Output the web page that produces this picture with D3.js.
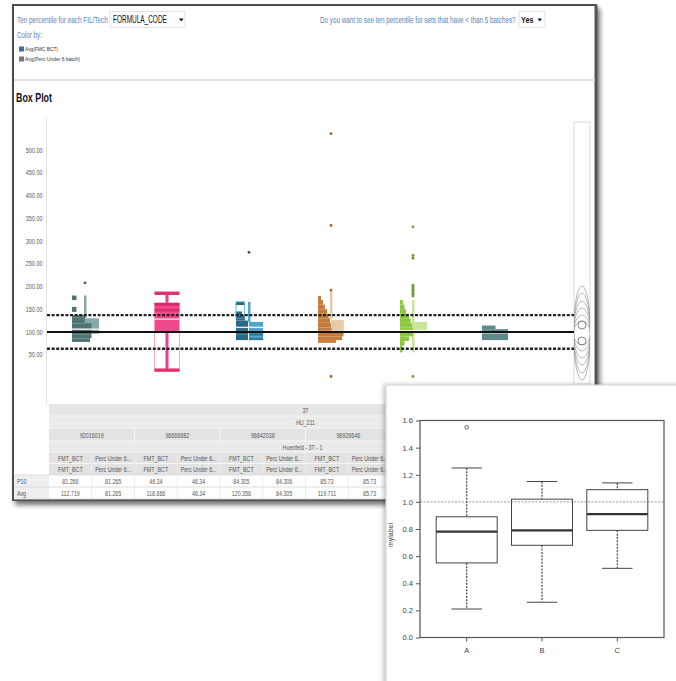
<!DOCTYPE html>
<html><head><meta charset="utf-8">
<script src="https://cdn.jsdelivr.net/npm/d3@7"></script>
<style>
html,body{margin:0;padding:0;background:#fff;}
svg{display:block;}
text{font-family:"Liberation Sans",Arial,sans-serif;}
</style></head><body><svg id="c" width="676" height="681"></svg>
<script>
const W = 676, H = 681;

// ---- main box plot data ----
const mainTicks = [50, 100, 150, 200, 250, 300, 350, 400, 450, 500];
const groups = ["92016019", "96666682", "96842038", "96926646", "set5", "set6"];
const darkColors = ["#4f7573", "#ee3f80", "#2c6987", "#c47c3c", "#8ec63e", "#5e8a8d"];
const lightColors = ["#88a9a7", "#f7a8c6", "#4ea4cb", "#e7cba9", "#c9e49b", "#93b4b6"];
// FMT_BCT stacks per group: [low, high, count]
const darkBins = [
  [[170,180,1.5],[144,155,1.5],[131,137,4.3],[119,131,4.3],[107,119,6.5],[95,107,6.5],[86,95,6.5],[78,86,6]],
  [],
  [[159,166,2.8],[137,145,2],[125,137,3],[110,125,4],[95,110,4],[82,95,4]],
  [[170,179,1],[160,170,1.7],[150,160,2.3],[140,150,3],[130,140,3.5],[120,130,4],[110,120,4.3],[100,110,4.5],[90,100,8.5],[82,90,8],[76,82,6]],
  [[160,170,1],[150,160,1.5],[140,150,2],[130,140,3],[120,130,3.5],[110,120,4],[100,110,4.3],[90,100,4.3],[80,90,3],[70,80,1.5],[55,70,0.8]],
  [[106,114,4.5],[82,106,8.7]]
];
// Perc Under 6 batch stacks per group: [low, high, count]
const lightBins = [
  [[96,130,4.7]],
  [],
  [[82,122,4.7]],
  [[100,126,4.3]],
  [[97,122,4.7]],
  []
];
const stripeBins = [[], [], [[92,97,4.7],[82,87,4.7]], [], [], []];
const hollowBins = [[], [], [[130,166,2.8]], [], [], []];
const whiskers = [[130,180], null, [122,166], [128,190], [55,170], null];
const medians = [106, 128, 110, 101, 103, 98];
const outliers = [
  [208], [], [275], [536, 334, 192, 2],
  [331, 268, 262, 203, 200, 197, 194, 191, 188, 185, 182, 179, 2], []
];
// summary box for 96666682
const boxGroup = "96666682";
const boxLow = 16, boxQ1 = 101, boxMid = 148, boxMedian = 128, boxQ3 = 164, boxHigh = 185;
const refSolid = [100];
const refDashed = [137, 63];

// ---- table data ----
const tableCodes = ["92016019", "96666682", "96842038", "96926646"];
const tableMeasures = ["FMT_BCT", "Perc Under 6..."];
const p10Values = ["81.266", "81.265", "46.34", "46.34", "84.305", "84.306", "85.73", "85.73"];
const avgValues = ["112.719", "81.265", "118.666", "46.34", "120.356", "84.305", "119.711", "85.73"];

// ---- inset box plot data ----
const insetGroups = ["A", "B", "C"];
const insetLow = [0.21, 0.26, 0.51];
const insetQ1 = [0.55, 0.68, 0.79];
const insetMedian = [0.78, 0.79, 0.91];
const insetQ3 = [0.89, 1.02, 1.09];
const insetHigh = [1.25, 1.15, 1.14];
const insetOutliers = [["A", 1.55]];
const insetTicks = [0, 0.2, 0.4, 0.6, 0.8, 1.0, 1.2, 1.4, 1.6];

const svg = d3.select("#c");
svg.append("rect").attr("width", W).attr("height", H).attr("fill", "#fff");
const defs = svg.append("defs");
const sh = defs.append("filter").attr("id", "shadow")
  .attr("x", "-5%").attr("y", "-5%").attr("width", "115%").attr("height", "115%");
sh.append("feDropShadow").attr("dx", 3).attr("dy", 4).attr("stdDeviation", 2.5)
  .attr("flood-color", "#000").attr("flood-opacity", 0.55);
const sh2 = defs.append("filter").attr("id", "shadow2")
  .attr("x", "-10%").attr("y", "-10%").attr("width", "120%").attr("height", "120%");
sh2.append("feDropShadow").attr("dx", -2).attr("dy", 0).attr("stdDeviation", 2)
  .attr("flood-color", "#000").attr("flood-opacity", 0.25);

// condensed text: draw at natural size, then squeeze horizontally
function narrowText(parent, x, y, s, size, fill, opts) {
  opts = opts || {};
  const t = parent.append("text").attr("x", 0).attr("y", 0).text(s)
    .attr("font-size", size).attr("fill", fill)
    .attr("text-anchor", opts.anchor || "start");
  if (opts.bold) t.attr("font-weight", "bold");
  let k = opts.scale || 0.76;
  if (opts.width) k = opts.width / t.node().getComputedTextLength();
  t.attr("transform", `translate(${x},${y}) scale(${k},1)`);
  return t;
}

// dashboard frame
svg.append("rect").attr("x", 13).attr("y", 5).attr("width", 583).attr("height", 495)
  .attr("fill", "#fff").attr("stroke", "#4d4d4d").attr("stroke-width", 2).attr("filter", "url(#shadow)");
svg.append("line").attr("x1", 596).attr("x2", 596).attr("y1", 5).attr("y2", 500)
  .attr("stroke", "#555").attr("stroke-width", 3);

// header controls
const blue = "#5682b9";
narrowText(svg, 17, 23, "Ten percentile for each FIL/Tech", 9.5, blue, { width: 91 });
svg.append("rect").attr("x", 110).attr("y", 11.5).attr("width", 75).attr("height", 16)
  .attr("fill", "#fff").attr("stroke", "#e2e2e2");
narrowText(svg, 113, 23, "FORMULA_CODE", 10, "#111", { width: 54 });
svg.append("path").attr("d", "M179,18.5 h4.5 l-2.25,3 z").attr("fill", "#111");
narrowText(svg, 17, 38, "Color by:", 9.5, blue, { width: 25 });
svg.append("rect").attr("x", 19).attr("y", 46.5).attr("width", 5).attr("height", 5).attr("fill", "#3a6ea5");
narrowText(svg, 25, 51, "Avg(FMC BCT)", 5.5, "#333", { width: 33 });
svg.append("rect").attr("x", 19).attr("y", 56.5).attr("width", 5).attr("height", 5).attr("fill", "#777");
narrowText(svg, 25, 61, "Avg(Perc Under 6 batch)", 5.5, "#333", { width: 55 });
narrowText(svg, 320, 23, "Do you want to see ten percentile for sets that have < than 5 batches?", 9.5, blue, { width: 196 });
svg.append("rect").attr("x", 519).attr("y", 11.5).attr("width", 26).attr("height", 16)
  .attr("fill", "#fff").attr("stroke", "#e2e2e2");
narrowText(svg, 521, 23, "Yes", 9.5, "#111", { width: 12.5, bold: true });
svg.append("path").attr("d", "M537.5,18.5 h4.5 l-2.25,3 z").attr("fill", "#111");
svg.append("line").attr("x1", 14).attr("x2", 595).attr("y1", 80).attr("y2", 80)
  .attr("stroke", "#dedede").attr("stroke-width", 2);
narrowText(svg, 16, 102, "Box Plot", 12, "#111", { width: 36, bold: true });

// main chart scales
const y = d3.scaleLinear().domain([0, 500]).range([377.4, 150]);
const x = d3.scaleBand().domain(groups).range([44, 536]);
const cx = g => x(g) + x.bandwidth() / 2;
const unit = d3.scaleLinear().domain([0, 1]).range([0, 3]);

svg.append("line").attr("x1", 46.5).attr("x2", 46.5).attr("y1", 118).attr("y2", 404)
  .attr("stroke", "#e0e0e0");

const yAxis = svg.append("g").attr("transform", "translate(44,0)")
  .call(d3.axisLeft(y).tickValues(mainTicks).tickFormat(d3.format(".2f")).tickSize(0).tickPadding(2));
yAxis.select(".domain").remove();
yAxis.selectAll("text").attr("font-size", 7).attr("fill", "#555")
  .attr("transform", "scale(0.78,1)");

// right-hand zoom slider panel
const panel = svg.append("g");
panel.append("rect").attr("x", 574).attr("y", 122).attr("width", 16).attr("height", 262)
  .attr("fill", "#fff").attr("stroke", "#dadada");
defs.append("clipPath").attr("id", "pclip").append("rect")
  .attr("x", 574).attr("y", 122).attr("width", 16).attr("height", 262);
const arcs = panel.append("g").attr("clip-path", "url(#pclip)");
[12, 18, 25, 32, 40, 47].forEach(r => {
  arcs.append("ellipse").attr("cx", 582).attr("cy", 333).attr("rx", 8.5).attr("ry", r)
    .attr("fill", "none").attr("stroke", "#9a9a9a").attr("stroke-width", 0.7);
});
[325, 341].forEach(c => {
  arcs.append("circle").attr("cx", 582).attr("cy", c).attr("r", 4)
    .attr("fill", "none").attr("stroke", "#777").attr("stroke-width", 0.9);
});

// group marks
const marks = svg.append("g");
groups.forEach((g, i) => {
  const c = cx(g), left = c - 13;
  const dark = darkColors[i], light = lightColors[i];
  if (g === boxGroup) {
    const bw = 25;
    marks.append("rect").attr("x", c - bw / 2).attr("y", y(boxQ1)).attr("width", bw)
      .attr("height", y(boxLow) - y(boxQ1)).attr("fill", "none").attr("stroke", light).attr("stroke-width", 1);
    marks.append("rect").attr("x", c - 1.5).attr("y", y(boxHigh)).attr("width", 3)
      .attr("height", y(boxQ3) - y(boxHigh)).attr("fill", dark);
    marks.append("rect").attr("x", c - 1.5).attr("y", y(boxQ1)).attr("width", 3)
      .attr("height", y(boxLow) - y(boxQ1)).attr("fill", dark);
    [boxHigh, boxLow].forEach(v => marks.append("rect").attr("x", c - bw / 2).attr("y", y(v) - 1.7)
      .attr("width", bw).attr("height", 3.4).attr("fill", "#e0306f"));
    marks.append("rect").attr("x", c - bw / 2).attr("y", y(boxQ3)).attr("width", bw)
      .attr("height", y(boxQ1) - y(boxQ3)).attr("fill", "#f04a8a");
    marks.append("rect").attr("x", c - bw / 2).attr("y", y(boxQ3)).attr("width", bw)
      .attr("height", 3).attr("fill", "#d8296a");
    marks.append("rect").attr("x", c - bw / 2).attr("y", y(boxMid) - 1.5).attr("width", bw)
      .attr("height", 3).attr("fill", "#dc2d6d");
    marks.append("rect").attr("x", c - bw / 2).attr("y", y(boxMedian) - 0.8).attr("width", bw)
      .attr("height", 1.6).attr("fill", "#f9c0d6");
    return;
  }
  lightBins[i].forEach(([lo, hi, n]) => marks.append("rect").attr("x", c).attr("y", y(hi))
    .attr("width", unit(n)).attr("height", y(lo) - y(hi)).attr("fill", light));
  stripeBins[i].forEach(([lo, hi, n]) => marks.append("rect").attr("x", c).attr("y", y(hi))
    .attr("width", unit(n)).attr("height", y(lo) - y(hi)).attr("fill", dark).attr("opacity", 0.75));
  if (whiskers[i]) {
    const [lo, hi] = whiskers[i];
    marks.append("rect").attr("x", c - 1).attr("y", y(hi)).attr("width", 2.5)
      .attr("height", y(lo) - y(hi)).attr("fill", light);
  }
  darkBins[i].forEach(([lo, hi, n]) => marks.append("rect").attr("x", left).attr("y", y(hi))
    .attr("width", unit(n)).attr("height", y(lo) - y(hi)).attr("fill", dark));
  hollowBins[i].forEach(([lo, hi, n]) => marks.append("rect").attr("x", left).attr("y", y(hi))
    .attr("width", unit(n)).attr("height", y(lo) - y(hi)).attr("fill", "none")
    .attr("stroke", light).attr("stroke-width", 0.8));
  const extent = d3.max([
    ...darkBins[i].map(b => unit(b[2])),
    ...lightBins[i].map(b => (c - left) + unit(b[2]))
  ]);
  marks.append("rect").attr("x", left).attr("y", y(medians[i]) - 0.7)
    .attr("width", Math.max(extent, 26)).attr("height", 1.4).attr("fill", "#fff").attr("opacity", 0.85);
  outliers[i].forEach(v => marks.append("circle").attr("cx", c).attr("cy", y(v)).attr("r", 1.4)
    .attr("fill", d3.color(dark).darker(0.7)));
});

// reference lines
refSolid.forEach(v => svg.append("line").attr("x1", 47).attr("x2", 574).attr("y1", y(v)).attr("y2", y(v))
  .attr("stroke", "#111").attr("stroke-width", 2));
refDashed.forEach(v => svg.append("line").attr("x1", 47).attr("x2", 574).attr("y1", y(v)).attr("y2", y(v))
  .attr("stroke", "#222").attr("stroke-width", 2.4).attr("stroke-dasharray", "3,1.6"));

// summary table
const tx = d3.scaleBand().domain(d3.range(groups.length * 2)).range([49, 562]);
const rowY = [404, 416, 428, 441, 452, 463.5, 475, 487, 499];
const rowFill = ["#e6e6e6", "#ebebeb", "#e3e3e3", "#eaeaea", "#e2e2e2", "#e2e2e2"];
const table = svg.append("g");
rowFill.forEach((f, r) => table.append("rect").attr("x", 49).attr("y", rowY[r])
  .attr("width", 513).attr("height", rowY[r + 1] - rowY[r]).attr("fill", f));
for (let r = 1; r < 6; r++) table.append("line").attr("x1", 49).attr("x2", 562)
  .attr("y1", rowY[r]).attr("y2", rowY[r]).attr("stroke", "#f6f6f6");
tx.domain().forEach(k => {
  const xx = tx(k);
  if (k % 2 === 0 && k > 0) table.append("line").attr("x1", xx).attr("x2", xx)
    .attr("y1", rowY[2]).attr("y2", rowY[3]).attr("stroke", "#f6f6f6");
  if (k > 0) table.append("line").attr("x1", xx).attr("x2", xx)
    .attr("y1", rowY[4]).attr("y2", rowY[8]).attr("stroke", "#ececec");
});
table.append("rect").attr("x", 14).attr("y", rowY[6]).attr("width", 35).attr("height", rowY[8] - rowY[6])
  .attr("fill", "#efefef");
[6, 7, 8].forEach(r => table.append("line").attr("x1", 14).attr("x2", 562)
  .attr("y1", rowY[r]).attr("y2", rowY[r]).attr("stroke", "#dcdcdc"));
const tcenter = (49 + 562) / 2;
function ttxt(xx, yy, s, anchor) {
  narrowText(table, xx, yy, s, 7.2, "#555", { anchor: anchor || "middle", scale: 0.74 });
}
ttxt(tcenter, 413, "3T");
ttxt(tcenter, 425, "HU_211");
tableCodes.forEach((code, k) => ttxt(tx(2 * k) + tx.bandwidth(), 437.5, code));
ttxt(tcenter - 3, 449.5, "Huenfeld - 3T - 1");
p10Values.forEach((v, k) => {
  const mx = tx(k) + tx.bandwidth() / 2;
  ttxt(mx, 460.5, tableMeasures[k % 2]);
  ttxt(mx, 472, tableMeasures[k % 2]);
  ttxt(mx, 484, v);
  ttxt(mx, 496, avgValues[k]);
});
ttxt(17, 484, "P10", "start");
ttxt(17, 496, "Avg", "start");

// inset box plot panel
const inset = svg.append("g");
inset.append("rect").attr("x", 386).attr("y", 385).attr("width", 300).attr("height", 300)
  .attr("fill", "#fff").attr("stroke", "#cfcfcf").attr("filter", "url(#shadow2)");
const iy = d3.scaleLinear().domain([0, 1.6]).range([637.5, 420.5]);
const ix = d3.scalePoint().domain(insetGroups).range([420, 664]).padding(0.62);
const ibw = 61;
inset.append("line").attr("x1", 420).attr("x2", 664).attr("y1", iy(1)).attr("y2", iy(1))
  .attr("stroke", "#888").attr("stroke-width", 0.9).attr("stroke-dasharray", "2,1.5");
const iAxis = inset.append("g").attr("transform", "translate(420,0)")
  .call(d3.axisLeft(iy).tickValues(insetTicks).tickFormat(d3.format(".1f")).tickSize(4).tickPadding(3));
iAxis.select(".domain").remove();
iAxis.selectAll("line").attr("stroke", "#555");
iAxis.selectAll("text").attr("font-size", 7.5).attr("fill", "#444");
inset.append("rect").attr("x", 420).attr("y", 420.5).attr("width", 244).attr("height", 217)
  .attr("fill", "none").attr("stroke", "#555").attr("stroke-width", 1.2);
inset.append("text").attr("transform", "translate(393,535) rotate(-90)").text("mylabel")
  .attr("text-anchor", "middle").attr("font-size", 7).attr("fill", "#444");
insetGroups.forEach((g, i) => {
  const c = ix(g);
  inset.append("line").attr("x1", c).attr("x2", c).attr("y1", 637.5).attr("y2", 641.5).attr("stroke", "#555");
  inset.append("text").attr("x", c).attr("y", 653).text(g).attr("text-anchor", "middle")
    .attr("font-size", 7.5).attr("fill", "#444");
  [[insetHigh[i], insetQ3[i]], [insetQ1[i], insetLow[i]]].forEach(([a, b]) =>
    inset.append("line").attr("x1", c).attr("x2", c).attr("y1", iy(a)).attr("y2", iy(b))
      .attr("stroke", "#444").attr("stroke-width", 1.2).attr("stroke-dasharray", "2,1.3"));
  [insetHigh[i], insetLow[i]].forEach(v => inset.append("line").attr("x1", c - ibw / 4).attr("x2", c + ibw / 4)
    .attr("y1", iy(v)).attr("y2", iy(v)).attr("stroke", "#444").attr("stroke-width", 1));
  inset.append("rect").attr("x", c - ibw / 2).attr("y", iy(insetQ3[i])).attr("width", ibw)
    .attr("height", iy(insetQ1[i]) - iy(insetQ3[i])).attr("fill", "none").attr("stroke", "#444").attr("stroke-width", 1);
  inset.append("line").attr("x1", c - ibw / 2).attr("x2", c + ibw / 2)
    .attr("y1", iy(insetMedian[i])).attr("y2", iy(insetMedian[i])).attr("stroke", "#333").attr("stroke-width", 2.2);
});
insetOutliers.forEach(([g, v]) => inset.append("circle").attr("cx", ix(g)).attr("cy", iy(v)).attr("r", 1.8)
  .attr("fill", "none").attr("stroke", "#555").attr("stroke-width", 0.9));
</script></body></html>
